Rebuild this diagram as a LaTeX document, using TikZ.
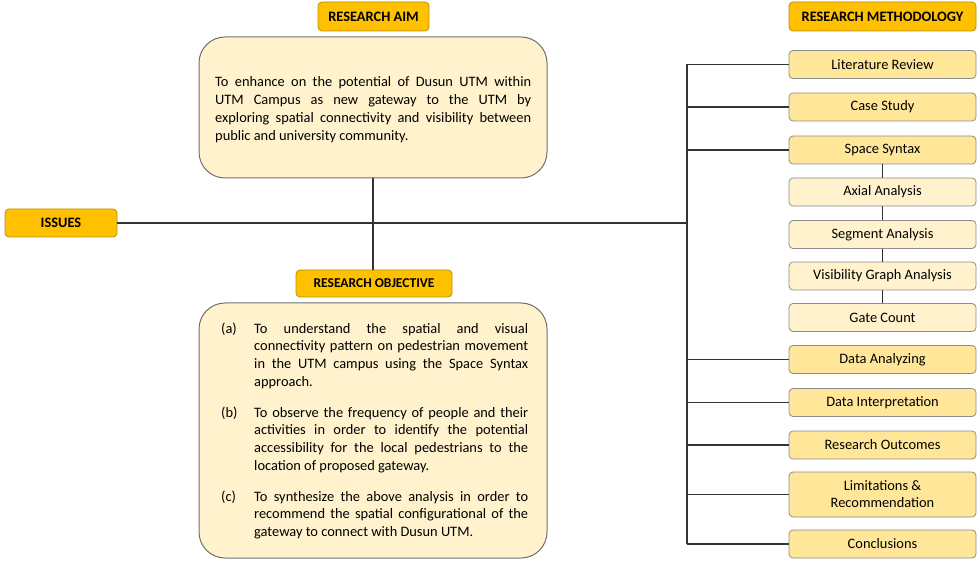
\documentclass[tikz,border=0pt]{standalone}
\usepackage{fontspec}
\setmainfont{Carlito}
\definecolor{gold}{HTML}{FFC000}
\definecolor{goldline}{HTML}{B8900A}
\definecolor{cream}{HTML}{FFF2CC}
\definecolor{light}{HTML}{FFE699}
\definecolor{edge}{HTML}{8C8C8C}
\definecolor{wire}{HTML}{333333}
\newcommand\nohyph{\hyphenpenalty=10000\relax\exhyphenpenalty=10000\relax}
\begin{document}
\begin{tikzpicture}[x=1pt,y=-1pt,
  header/.style={draw=goldline,fill=gold,rounded corners=4pt,line width=0.8pt,inner sep=0pt,
    font=\fontsize{14.4}{17}\selectfont\bfseries},
  bigbox/.style={draw=edge!80!black,fill=cream,rounded corners=26pt,line width=1pt,inner sep=0pt},
  methbox/.style={draw=edge,fill=light,rounded corners=4pt,line width=0.8pt,inner sep=0pt,
    minimum width=187pt,minimum height=28pt,font=\fontsize{14.4}{17}\selectfont,align=center},
  subbox/.style={methbox,fill=cream},
  bodytext/.style={inner sep=0pt,align=justify,anchor=north west,
    font={\fontsize{14.4}{17.7}\selectfont\nohyph}},
  wireline/.style={draw=wire,line width=1.6pt}
]
\useasboundingbox (0,0) rectangle (977,561);

% left / middle column
\node[header,minimum width=111pt,minimum height=29pt] (aimh) at (373.5,16.5) {RESEARCH AIM};
\node[bigbox,minimum width=348pt,minimum height=141pt] (aim) at (373,107.5) {};
\node[bodytext,text width=316pt,font={\fontsize{14.4}{18}\selectfont\nohyph}] (aimt) at (215,76) {To enhance on the potential of Dusun UTM within\linebreak UTM Campus as new gateway to the UTM by\linebreak exploring spatial connectivity and visibility between\linebreak public and university community.};

\node[header,minimum width=112pt,minimum height=28pt] (issues) at (61,223) {ISSUES};

\node[header,minimum width=156pt,minimum height=27pt,font=\fontsize{13.5}{16}\selectfont\bfseries] (objh) at (374,283.5) {RESEARCH OBJECTIVE};
\node[bigbox,minimum width=348pt,minimum height=255pt] (obj) at (373,430.5) {};

\node[bodytext] (la) at (221,323) {(a)};
\node[bodytext,text width=274pt] (ta) at (254,323) {To understand the spatial and visual\linebreak connectivity pattern on pedestrian movement\linebreak in the UTM campus using the Space Syntax\linebreak approach.};
\node[bodytext] (lb) at (221,407) {(b)};
\node[bodytext,text width=274pt] (tb) at (254,407) {To observe the frequency of people and their\linebreak activities in order to identify the potential\linebreak accessibility for the local pedestrians to the\linebreak location of proposed gateway.};
\node[bodytext] (lc) at (221,491) {(c)};
\node[bodytext,text width=274pt] (tc) at (254,491) {To synthesize the above analysis in order to\linebreak recommend the spatial configurational of the\linebreak gateway to connect with Dusun UTM.};

% right column
\node[header,minimum width=187pt,minimum height=29pt] (methh) at (882.5,16.5) {RESEARCH METHODOLOGY};
\node[methbox] (lit) at (882.5,64.5) {Literature Review};
\node[methbox] (case) at (882.5,107) {Case Study};
\node[methbox] (ss) at (882.5,150) {Space Syntax};
\node[subbox] (axial) at (882.5,192) {Axial Analysis};
\node[subbox] (seg) at (882.5,234.5) {Segment Analysis};
\node[subbox] (vga) at (882.5,276) {Visibility Graph Analysis};
\node[subbox] (gate) at (882.5,317.5) {Gate Count};
\node[methbox] (dana) at (882.5,359.5) {Data Analyzing};
\node[methbox] (dint) at (882.5,402.5) {Data Interpretation};
\node[methbox] (rout) at (882.5,445) {Research Outcomes};
\node[methbox,minimum height=45pt] (lim) at (882.5,494.5) {Limitations \&\\Recommendation};
\node[methbox] (conc) at (882.5,544) {Conclusions};

% connectors
\coordinate (busTop) at (687,64.5);
\coordinate (busBot) at (687,544);
\coordinate (busIss) at (687,223);
\draw[wireline] (busTop) -- (busBot);
\draw[wireline] (issues.east) -- (busIss);
\draw[wireline] (aim.south) -- (objh.north -| aim.south);
\foreach \n in {lit,case,ss,dana,dint,rout,lim,conc}{
  \draw[wireline] (busTop |- \n.west) -- (\n.west);
}
\draw[wireline] (ss.south) -- (axial.north);
\draw[wireline] (axial.south) -- (seg.north);
\draw[wireline] (seg.south) -- (vga.north);
\draw[wireline] (vga.south) -- (gate.north);
\end{tikzpicture}
\end{document}
